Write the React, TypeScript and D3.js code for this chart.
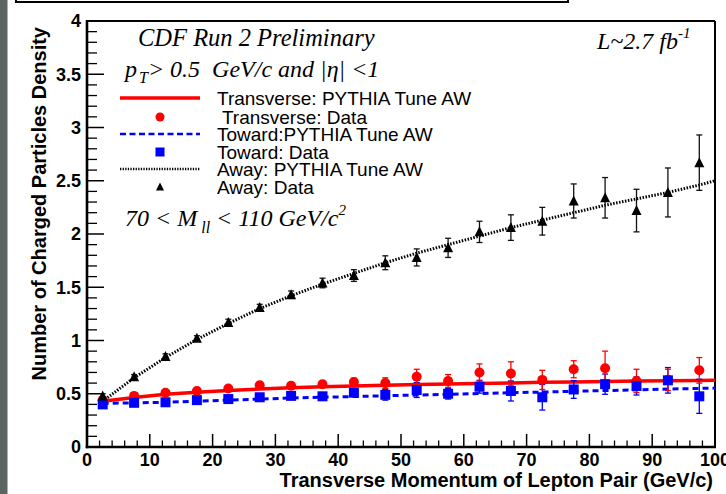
import React from "react";
import * as d3 from "d3";

const binCenters = [2.5, 7.5, 12.5, 17.5, 22.5, 27.5, 32.5, 37.5, 42.5, 47.5, 52.5, 57.5, 62.5, 67.5, 72.5, 77.5, 82.5, 87.5, 92.5, 97.5];

const transverseData = [0.44, 0.48, 0.51, 0.525, 0.55, 0.58, 0.575, 0.59, 0.61, 0.6, 0.66, 0.62, 0.7, 0.69, 0.63, 0.73, 0.74, 0.62, 0.63, 0.72];
const transverseErr = [0.02, 0.02, 0.02, 0.025, 0.025, 0.03, 0.03, 0.03, 0.035, 0.05, 0.07, 0.06, 0.08, 0.11, 0.09, 0.08, 0.16, 0.11, 0.1, 0.12];

const towardData = [0.4, 0.415, 0.42, 0.44, 0.45, 0.467, 0.48, 0.476, 0.51, 0.49, 0.535, 0.5, 0.566, 0.526, 0.467, 0.54, 0.59, 0.573, 0.626, 0.476];
const towardErr = [0.02, 0.02, 0.02, 0.02, 0.025, 0.03, 0.03, 0.03, 0.035, 0.05, 0.07, 0.05, 0.06, 0.094, 0.12, 0.083, 0.095, 0.085, 0.12, 0.16];

const awayData = [0.48, 0.66, 0.85, 1.02, 1.17, 1.31, 1.43, 1.54, 1.61, 1.73, 1.78, 1.87, 2.02, 2.06, 2.12, 2.31, 2.34, 2.22, 2.39, 2.67];
const awayErr = [0.02, 0.02, 0.025, 0.025, 0.03, 0.03, 0.035, 0.045, 0.055, 0.065, 0.08, 0.09, 0.1, 0.12, 0.13, 0.16, 0.19, 0.2, 0.23, 0.26];

const modelX = [2.5, 7.5, 12.5, 17.5, 22.5, 27.5, 32.5, 37.5, 42.5, 47.5, 52.5, 57.5, 62.5, 67.5, 72.5, 77.5, 82.5, 87.5, 92.5, 97.5, 100];
const transverseModel = [0.43, 0.465, 0.495, 0.515, 0.53, 0.545, 0.556, 0.565, 0.573, 0.58, 0.586, 0.592, 0.597, 0.602, 0.607, 0.611, 0.615, 0.619, 0.622, 0.625, 0.627];
const towardModel = [0.41, 0.415, 0.42, 0.43, 0.44, 0.45, 0.46, 0.467, 0.474, 0.481, 0.488, 0.495, 0.502, 0.509, 0.516, 0.523, 0.53, 0.537, 0.544, 0.55, 0.553];
const awayModel = [0.43, 0.65, 0.84, 1.01, 1.16, 1.3, 1.42, 1.53, 1.63, 1.73, 1.82, 1.9, 1.98, 2.06, 2.13, 2.2, 2.27, 2.33, 2.39, 2.46, 2.5];

const xTicks = [0, 10, 20, 30, 40, 50, 60, 70, 80, 90, 100];
const yTicks = [0, 0.5, 1, 1.5, 2, 2.5, 3, 3.5, 4];
const yTickLabels = ["0", "0.5", "1", "1.5", "2", "2.5", "3", "3.5", "4"];

const legendLabels = [
  "Transverse: PYTHIA Tune AW",
  " Transverse: Data",
  "Toward:PYTHIA Tune AW",
  "Toward: Data",
  "Away: PYTHIA Tune AW",
  "Away: Data",
];

const RED = "#ff0000";
const BLUE = "#0000ff";
const BLACK = "#000000";

export default function App() {
  const W = 726, H = 494;
  const left = 87, right = 715, top = 21, bottom = 447;
  const x = d3.scaleLinear().domain([0, 100]).range([left, right]);
  const y = d3.scaleLinear().domain([0, 4]).range([bottom, top]);

  const line = d3.line<[number, number]>().x((d) => x(d[0])).y((d) => y(d[1]));
  const pts = (ys: number[]) => modelX.map((v, i) => [v, ys[i]] as [number, number]);

  const xMinor = d3.range(0, 100.001, 2).filter((v) => v % 10 !== 0);
  const yMinor = d3.range(0, 4.0001, 0.1).map((v) => +v.toFixed(2)).filter((v) => Math.abs(v * 2 - Math.round(v * 2)) > 1e-6);

  const sans = "'Liberation Sans', Arial, Helvetica, sans-serif";
  const serif = "'Liberation Serif', 'Times New Roman', serif";

  const errBars = (data: number[], err: number[], color: string, key: string) =>
    binCenters.map((c, i) => {
      const cx = x(c);
      const y1 = y(data[i] + err[i]);
      const y2 = y(data[i] - err[i]);
      return (
        <g key={key + i} stroke={color} strokeWidth={1.3}>
          <line x1={cx} x2={cx} y1={y1} y2={y2} />
          <line x1={cx - 3} x2={cx + 3} y1={y1} y2={y1} />
          <line x1={cx - 3} x2={cx + 3} y1={y2} y2={y2} />
        </g>
      );
    });

  const tri = (cx: number, cy: number, s: number) =>
    `M${cx},${cy - s * 0.55}L${cx + s / 2},${cy + s * 0.45}L${cx - s / 2},${cy + s * 0.45}Z`;

  const legX1 = 120, legX2 = 200, legMid = 160, legTextX = 217;
  const legRows = [98, 117, 134, 152, 169, 187];

  return (
    <svg width={W} height={H} style={{ position: "absolute", left: 0, top: 0, background: "#fff" }}>
      <rect x={0} y={0} width={W} height={H} fill="#ffffff" />
      <rect x={0} y={0} width={7.5} height={H} fill="#5b6461" />
      <rect x={16} y={-10} width={552} height={12} fill="none" stroke={BLACK} strokeWidth={2} />

      {/* frame */}
      <line x1={left} x2={right} y1={top} y2={top} stroke={BLACK} strokeWidth={2} />
      <line x1={right} x2={right} y1={top} y2={bottom} stroke={BLACK} strokeWidth={2} />

      {/* y ticks */}
      {yTicks.map((t) => (
        <line key={"ym" + t} x1={left} x2={left + 17} y1={y(t)} y2={y(t)} stroke={BLACK} strokeWidth={1.5} />
      ))}
      {yMinor.map((t) => (
        <line key={"yn" + t} x1={left} x2={left + 10} y1={y(t)} y2={y(t)} stroke={BLACK} strokeWidth={1.3} />
      ))}
      {xTicks.map((t) => (
        <line key={"xm" + t} x1={x(t)} x2={x(t)} y1={bottom} y2={bottom - 13} stroke={BLACK} strokeWidth={1.5} />
      ))}
      {xMinor.map((t) => (
        <line key={"xn" + t} x1={x(t)} x2={x(t)} y1={bottom} y2={bottom - 6.5} stroke={BLACK} strokeWidth={1.3} />
      ))}
      <line x1={left} x2={left} y1={top - 1} y2={bottom + 1.3} stroke={BLACK} strokeWidth={2.6} />
      <line x1={left - 1.3} x2={right + 1} y1={bottom} y2={bottom} stroke={BLACK} strokeWidth={2.6} />

      {/* tick labels */}
      {yTicks.map((t, i) => (
        <text key={"yl" + t} x={81} y={y(t)} dy="0.36em" textAnchor="end" fontFamily={sans} fontWeight="bold" fontSize={18}>
          {yTickLabels[i]}
        </text>
      ))}
      {xTicks.map((t) => (
        <text key={"xl" + t} x={x(t)} y={466} textAnchor="middle" fontFamily={sans} fontWeight="bold" fontSize={18}>
          {t}
        </text>
      ))}

      {/* axis titles */}
      <text x={713} y={487} textAnchor="end" fontFamily={sans} fontWeight="bold" fontSize={20}>
        Transverse Momentum of Lepton Pair (GeV/c)
      </text>
      <text transform="translate(46,27) rotate(-90)" textAnchor="end" fontFamily={sans} fontWeight="bold" fontSize={20}>
        Number of Charged Particles Density
      </text>

      {/* model curves */}
      <path d={line(pts(awayModel)) || ""} fill="none" stroke={BLACK} strokeWidth={3} strokeDasharray="1.5,1.5" />
      <path d={line(pts(towardModel)) || ""} fill="none" stroke={BLUE} strokeWidth={3} strokeDasharray="6,4" />
      <path d={line(pts(transverseModel)) || ""} fill="none" stroke={RED} strokeWidth={3.5} />

      {/* data */}
      {errBars(awayData, awayErr, "#111", "ae")}
      {errBars(towardData, towardErr, BLUE, "te")}
      {errBars(transverseData, transverseErr, RED, "re")}
      {binCenters.map((c, i) => (
        <circle key={"rc" + i} cx={x(c)} cy={y(transverseData[i])} r={5} fill={RED} />
      ))}
      {binCenters.map((c, i) => (
        <rect key={"bs" + i} x={x(c) - 5} y={y(towardData[i]) - 5} width={10} height={10} fill={BLUE} />
      ))}
      {binCenters.map((c, i) => (
        <path key={"at" + i} d={tri(x(c), y(awayData[i]), 10)} fill={BLACK} />
      ))}

      {/* legend */}
      <line x1={legX1} x2={legX2} y1={legRows[0]} y2={legRows[0]} stroke={RED} strokeWidth={3.5} />
      <circle cx={legMid} cy={legRows[1]} r={4.5} fill={RED} />
      <line x1={legX1} x2={legX2} y1={legRows[2]} y2={legRows[2]} stroke={BLUE} strokeWidth={2.5} strokeDasharray="6,3.5" />
      <rect x={legMid - 4.5} y={legRows[3] - 4.5} width={9} height={9} fill={BLUE} />
      <line x1={legX1} x2={legX2} y1={legRows[4]} y2={legRows[4]} stroke={BLACK} strokeWidth={2.5} strokeDasharray="1.3,1.3" />
      <path d={tri(legMid, legRows[5], 8)} fill={BLACK} />
      {legendLabels.map((l, i) => (
        <text key={"lg" + i} x={legTextX} y={legRows[i]} dy="0.36em" fontFamily={sans} fontSize={19} style={{ whiteSpace: "pre" }}>
          {l}
        </text>
      ))}

      {/* annotations */}
      <text x={138} y={46} fontFamily={serif} fontStyle="italic" fontSize={24.5}>
        CDF Run 2 Preliminary
      </text>
      <text x={125} y={77} fontFamily={serif} fontStyle="italic" fontSize={24} style={{ whiteSpace: "pre" }}>
        p<tspan fontSize={16} dx={2} dy={6}>T</tspan>
        <tspan dy={-6}>{"> 0.5  GeV/c and |η| <1"}</tspan>
      </text>
      <text x={597} y={49} fontFamily={serif} fontStyle="italic" fontSize={24}>
        L~2.7 fb<tspan fontSize={15} dy={-11}>-1</tspan>
      </text>
      <text x={125} y={226} fontFamily={serif} fontStyle="italic" fontSize={24} style={{ whiteSpace: "pre" }}>
        {"70 < M"}<tspan fontSize={16} dy={7}>{" ll"}</tspan>
        <tspan dy={-7}>{" < 110 GeV/c"}</tspan>
        <tspan fontSize={15} dy={-11}>2</tspan>
      </text>
    </svg>
  );
}
